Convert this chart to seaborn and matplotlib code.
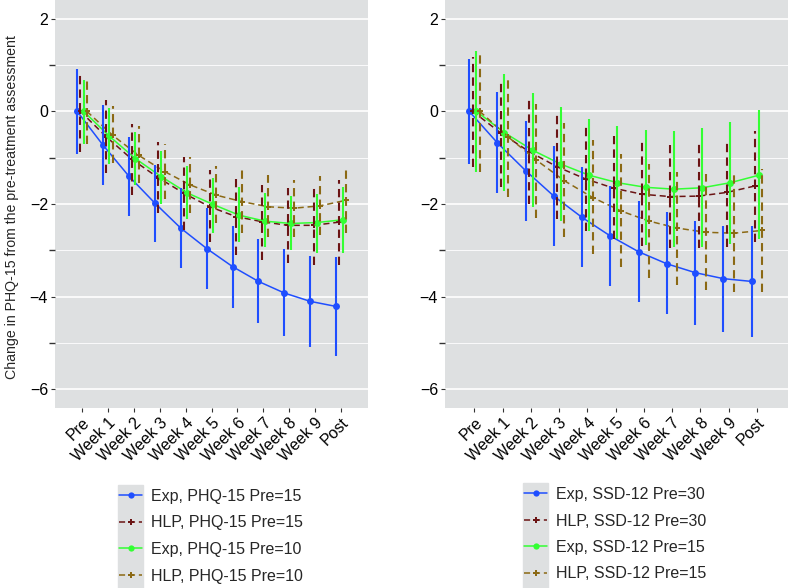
import numpy as np
import pandas as pd
import matplotlib.pyplot as plt
import seaborn as sns
from matplotlib.lines import Line2D
from matplotlib.patches import Rectangle

timepoints = ["Pre", "Week 1", "Week 2", "Week 3", "Week 4", "Week 5",
              "Week 6", "Week 7", "Week 8", "Week 9", "Post"]

# left panel: PHQ-15
phq_labels = ["Exp, PHQ-15 Pre=15", "HLP, PHQ-15 Pre=15",
              "Exp, PHQ-15 Pre=10", "HLP, PHQ-15 Pre=10"]
phq_exp15 = [0, -0.73, -1.40, -1.98, -2.52, -2.96, -3.35, -3.67, -3.92, -4.10, -4.21]
phq_exp15_lo = [-0.92, -1.59, -2.25, -2.83, -3.37, -3.84, -4.24, -4.57, -4.85, -5.09, -5.27]
phq_exp15_hi = [0.92, 0.13, -0.55, -1.15, -1.66, -2.09, -2.47, -2.76, -2.98, -3.12, -3.15]
phq_hlp15 = [0, -0.55, -1.04, -1.43, -1.77, -2.06, -2.27, -2.38, -2.46, -2.46, -2.39]
phq_hlp15_lo = [-0.87, -1.34, -1.81, -2.20, -2.56, -2.83, -3.10, -3.20, -3.28, -3.31, -3.31]
phq_hlp15_hi = [0.85, 0.25, -0.27, -0.67, -0.99, -1.27, -1.46, -1.59, -1.65, -1.61, -1.48]
phq_exp10 = [0, -0.54, -1.02, -1.41, -1.76, -2.01, -2.24, -2.37, -2.42, -2.40, -2.34]
phq_exp10_lo = [-0.70, -1.14, -1.59, -2.00, -2.33, -2.62, -2.81, -2.93, -3.00, -3.05, -3.06]
phq_exp10_hi = [0.68, 0.06, -0.44, -0.85, -1.18, -1.45, -1.64, -1.76, -1.83, -1.79, -1.64]
phq_hlp10 = [0, -0.52, -0.95, -1.30, -1.59, -1.81, -1.95, -2.06, -2.09, -2.04, -1.92]
phq_hlp10_lo = [-0.70, -1.11, -1.54, -1.90, -2.20, -2.42, -2.63, -2.72, -2.72, -2.67, -2.63]
phq_hlp10_hi = [0.72, 0.11, -0.32, -0.70, -0.98, -1.18, -1.20, -1.37, -1.48, -1.40, -1.24]

# right panel: SSD-12
ssd_labels = ["Exp, SSD-12 Pre=30", "HLP, SSD-12 Pre=30",
              "Exp, SSD-12 Pre=15", "HLP, SSD-12 Pre=15"]
ssd_exp30 = [0, -0.68, -1.28, -1.83, -2.29, -2.69, -3.03, -3.29, -3.48, -3.61, -3.67]
ssd_exp30_lo = [-1.14, -1.77, -2.36, -2.90, -3.36, -3.76, -4.11, -4.38, -4.60, -4.76, -4.87]
ssd_exp30_hi = [1.13, 0.41, -0.22, -0.75, -1.21, -1.61, -1.94, -2.18, -2.37, -2.47, -2.47]
ssd_hlp30 = [0, -0.47, -0.87, -1.20, -1.46, -1.66, -1.79, -1.84, -1.83, -1.75, -1.61]
ssd_hlp30_lo = [-1.20, -1.63, -2.00, -2.33, -2.58, -2.76, -2.90, -2.95, -2.95, -2.92, -2.81]
ssd_hlp30_hi = [1.18, 0.68, 0.25, -0.09, -0.35, -0.54, -0.67, -0.72, -0.71, -0.61, -0.42]
ssd_exp15 = [0, -0.46, -0.84, -1.14, -1.38, -1.54, -1.64, -1.68, -1.65, -1.54, -1.38]
ssd_exp15_lo = [-1.32, -1.71, -2.06, -2.36, -2.58, -2.76, -2.88, -2.92, -2.92, -2.86, -2.76]
ssd_exp15_hi = [1.30, 0.81, 0.40, 0.09, -0.16, -0.32, -0.41, -0.43, -0.37, -0.23, 0.02]
ssd_hlp15 = [0, -0.55, -1.05, -1.50, -1.86, -2.15, -2.37, -2.52, -2.61, -2.63, -2.57]
ssd_hlp15_lo = [-1.32, -1.84, -2.31, -2.72, -3.08, -3.35, -3.60, -3.74, -3.85, -3.90, -3.90]
ssd_hlp15_hi = [1.30, 0.69, 0.16, -0.25, -0.62, -0.92, -1.14, -1.30, -1.35, -1.35, -1.25]

colors = ["#1F4EFF", "#6B1414", "#33FF33", "#8B6914"]
dash = (0, (4, 2.5))
line_styles = ["-", dash, "-", dash]
markers = ["o", "P", "o", "P"]
offsets = [-0.1875, -0.0625, 0.0625, 0.1875]

sns.set_theme(style="darkgrid", rc={
    "axes.facecolor": "#DEE0E1",
    "grid.color": "white",
    "grid.linewidth": 1.2,
    "xtick.bottom": True,
    "ytick.left": True,
    "xtick.major.size": 3,
    "ytick.major.size": 3,
    "xtick.major.width": 0.8,
    "ytick.major.width": 0.8,
    "xtick.color": "#333333",
    "ytick.color": "#333333",
    "xtick.labelcolor": "black",
    "ytick.labelcolor": "black",
    "xtick.major.pad": 2,
    "ytick.major.pad": 2,
})
plt.rcParams["font.family"] = ["Liberation Sans", "DejaVu Sans"]


def draw_panel(ax, means, los, his, labels, xlim):
    rows = []
    for k, (m, lab) in enumerate(zip(means, labels)):
        for i, v in enumerate(m):
            rows.append({"x": i + offsets[k], "y": v, "group": lab})
    df = pd.DataFrame(rows)
    sns.lineplot(data=df, x="x", y="y", hue="group", style="group",
                 palette=dict(zip(labels, colors)),
                 dashes=dict(zip(labels, [(), (4, 2.5), (), (4, 2.5)])),
                 markers=dict(zip(labels, markers)),
                 markersize=5, markeredgewidth=0, linewidth=1.1,
                 legend=False, ax=ax, sort=False)
    for k in range(4):
        xs = np.arange(len(timepoints)) + offsets[k]
        ax.vlines(xs, los[k], his[k], colors=colors[k],
                  linestyles=[line_styles[k]], linewidth=1.5)
    ax.set_xlim(*xlim)
    ax.set_ylim(-6.4, 2.4)
    ax.set_xticks(range(len(timepoints)))
    ax.set_xticklabels(timepoints, rotation=45, ha="right",
                       rotation_mode="anchor", fontsize=11.5)
    ax.set_yticks([-6, -4, -2, 0, 2])
    ax.set_yticks([-5, -3, -1, 1], minor=True)
    ax.tick_params(axis="y", labelsize=11.5)
    ax.grid(axis="x", visible=False)
    ax.grid(axis="y", which="minor", color="white", linewidth=0.6)
    ax.set_xlabel("")
    ax.set_ylabel("")
    for s in ax.spines.values():
        s.set_visible(False)
    handles = [Line2D([], [], color=colors[k], linestyle=line_styles[k],
                      marker=markers[k], markersize=4.5, markeredgewidth=0,
                      linewidth=1.1) for k in range(4)]
    return handles


fig = plt.figure(figsize=(7.88, 5.88), dpi=100)
ax1 = fig.add_axes([55 / 788, 180 / 588, 313 / 788, 408 / 588])
ax2 = fig.add_axes([445 / 788, 180 / 588, 343 / 788, 408 / 588])

h1 = draw_panel(ax1,
                [phq_exp15, phq_hlp15, phq_exp10, phq_hlp10],
                [phq_exp15_lo, phq_hlp15_lo, phq_exp10_lo, phq_hlp10_lo],
                [phq_exp15_hi, phq_hlp15_hi, phq_exp10_hi, phq_hlp10_hi],
                phq_labels, (-1.04, 11.04))
h2 = draw_panel(ax2,
                [ssd_exp30, ssd_hlp30, ssd_exp15, ssd_hlp15],
                [ssd_exp30_lo, ssd_hlp30_lo, ssd_exp15_lo, ssd_hlp15_lo],
                [ssd_exp30_hi, ssd_hlp30_hi, ssd_exp15_hi, ssd_hlp15_hi],
                ssd_labels, (-1.04, 11.1))

fig.text(12 / 788, 1 - 207 / 588,
         "Change in PHQ-15 from the pre-treatment assessment",
         rotation=90, ha="center", va="center", fontsize=10.2)

# legend key backgrounds
fig.patches.append(Rectangle((118 / 788, 0), 25 / 788, 103 / 588,
                             transform=fig.transFigure, color="#DEE0E1", zorder=0))
fig.patches.append(Rectangle((523 / 788, 0), 25 / 788, 105 / 588,
                             transform=fig.transFigure, color="#DEE0E1", zorder=0))

for handles, labels, x0, y0 in [(h1, phq_labels, 119, 489), (h2, ssd_labels, 524, 487)]:
    fig.legend(handles, labels, loc="upper left",
               bbox_to_anchor=(x0 / 788, 1 - y0 / 588),
               frameon=False, fontsize=11.5, handlelength=1.45,
               handletextpad=0.55, labelspacing=0.72, borderpad=0,
               borderaxespad=0)

fig.savefig("out.png", dpi=100)
